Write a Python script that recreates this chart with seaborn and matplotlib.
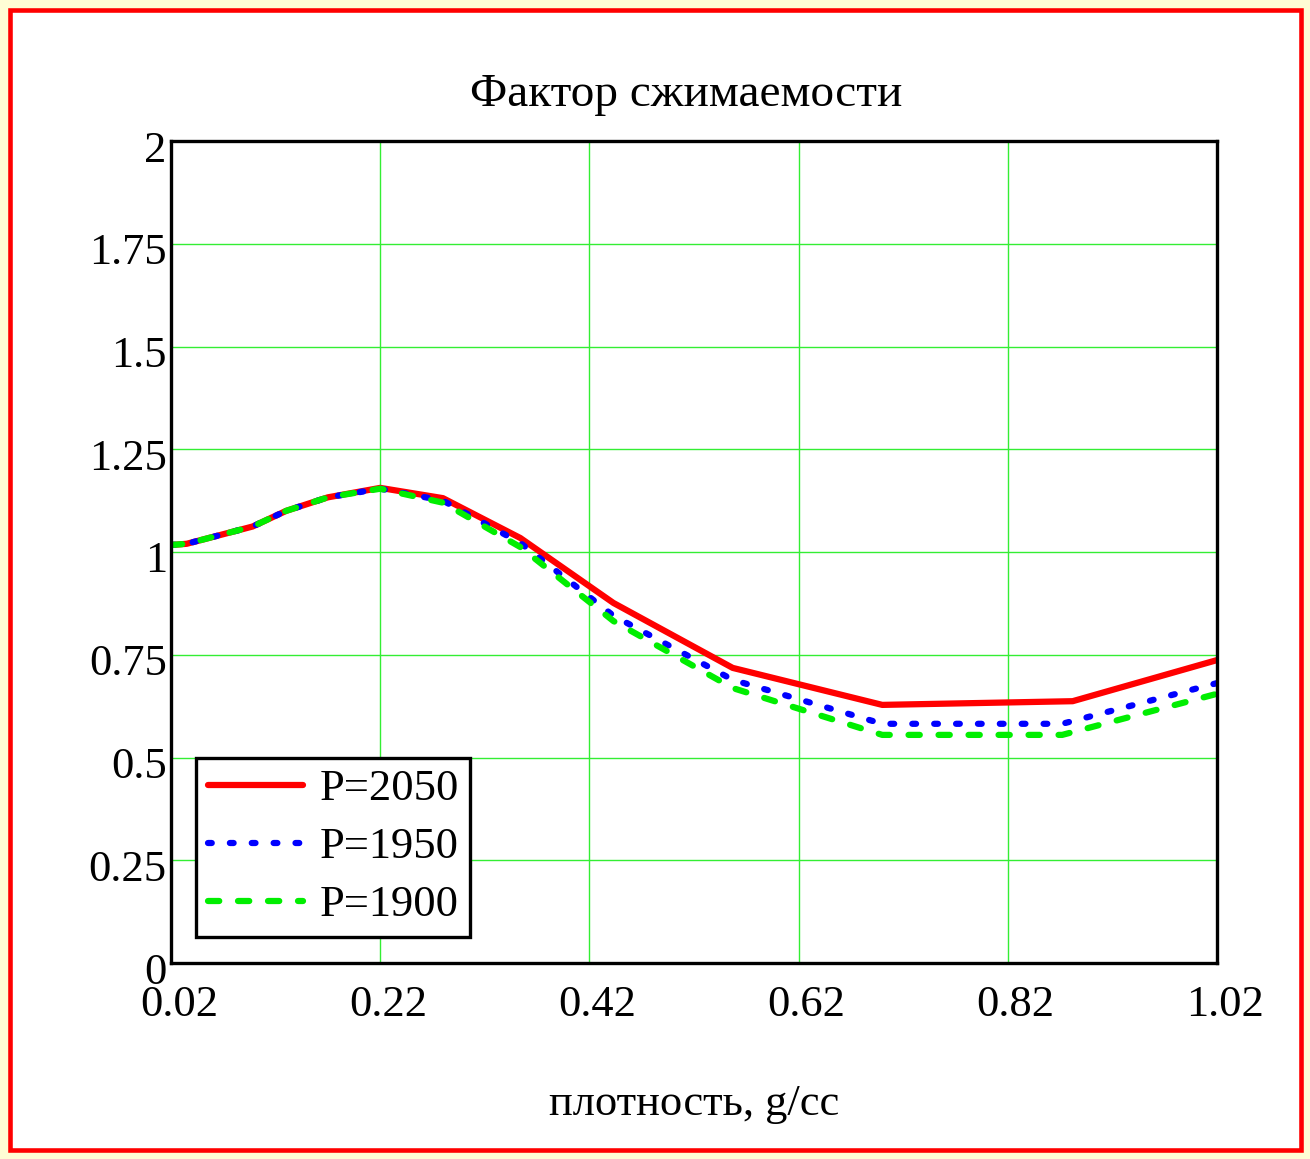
import matplotlib
matplotlib.use("Agg")
import matplotlib.pyplot as plt
import matplotlib.transforms as mtransforms
import seaborn as sns
import pandas as pd
from matplotlib.patches import Rectangle

# ---- data ----
x_2050 = [0.02, 0.035, 0.098, 0.13, 0.17, 0.22, 0.28, 0.354, 0.443, 0.557, 0.70, 0.882, 1.02]
z_2050 = [1.017, 1.02, 1.062, 1.10, 1.133, 1.156, 1.131, 1.034, 0.876, 0.718, 0.628, 0.637, 0.737]

x_1950 = [0.02, 0.035, 0.098, 0.13, 0.17, 0.22, 0.28, 0.354, 0.443, 0.557, 0.70, 0.872, 1.02]
z_1950 = [1.017, 1.02, 1.062, 1.10, 1.133, 1.154, 1.125, 1.022, 0.845, 0.689, 0.582, 0.582, 0.681]

x_1900 = [0.02, 0.035, 0.098, 0.13, 0.17, 0.22, 0.28, 0.354, 0.443, 0.557, 0.70, 0.872, 1.02]
z_1900 = [1.017, 1.02, 1.062, 1.10, 1.133, 1.154, 1.12, 1.012, 0.832, 0.669, 0.555, 0.555, 0.655]

labels = ["P=2050", "P=1950", "P=1900"]
title = "Фактор сжимаемости"
xlabel = "плотность, g/cc"
xticks = [0.02, 0.22, 0.42, 0.62, 0.82, 1.02]
xtick_labels = ["0.02", "0.22", "0.42", "0.62", "0.82", "1.02"]
yticks = [0, 0.25, 0.5, 0.75, 1, 1.25, 1.5, 1.75, 2]
ytick_labels = ["0", "0.25", "0.5", "0.75", "1", "1.25", "1.5", "1.75", "2"]

sns.set_theme(style="white")
plt.rcParams['font.family'] = ['Liberation Serif', 'DejaVu Serif']
plt.rcParams['text.color'] = 'black'

fig = plt.figure(figsize=(13.1, 11.59), dpi=100)
fig.patch.set_facecolor('#fffdd5')
# white panel with red border
border = Rectangle((9.5/1310, 9.5/1159), 1 - 19/1310, 1 - 19/1159,
                   transform=fig.transFigure, facecolor='white',
                   edgecolor='#ff0000', linewidth=3.3, zorder=-10)
fig.patches.append(border)

ax = fig.add_axes([171/1310, 1 - 963/1159, (1217 - 171)/1310, (963 - 141)/1159])
ax.set_zorder(5)
ax.set_facecolor('white')

fs = 32
series = [
    (x_2050, z_2050, labels[0], '#ff0000', '-'),
    (x_1950, z_1950, labels[1], '#0000ff', (0, (0.6, 2.9))),
    (x_1900, z_1900, labels[2], '#00ee00', (0, (1.8, 3.0))),
]
for xs, zs, lab, col, ls in series:
    df = pd.DataFrame({'x': xs, 'z': zs})
    sns.lineplot(data=df, x='x', y='z', ax=ax, color=col, linewidth=4.5,
                 linestyle=ls, label=lab, sort=False, estimator=None,
                 dash_capstyle='round', solid_capstyle='round', zorder=3)

ax.set_xlim(0.02, 1.02)
ax.set_ylim(0, 2)
ax.set_xticks(xticks)
ax.set_xticklabels(xtick_labels)
ax.set_yticks(yticks)
ax.set_yticklabels(ytick_labels)
ax.tick_params(axis='both', length=0, labelsize=fs, colors='black')
ax.tick_params(axis='x', pad=16)
ax.tick_params(axis='y', pad=3)
ax.grid(True, color='#33ee33', linewidth=1.0)
for s in ax.spines.values():
    s.set_color('black')
    s.set_linewidth(2.4)
    s.set_zorder(5)

# small offsets of tick labels as in the reference
offx = mtransforms.ScaledTranslation(8/100, 0, fig.dpi_scale_trans)
for lab in ax.get_xticklabels():
    lab.set_transform(lab.get_transform() + offx)
offy = mtransforms.ScaledTranslation(0, -5/100, fig.dpi_scale_trans)
for lab in ax.get_yticklabels():
    lab.set_transform(lab.get_transform() + offy)

ax.set_title(title, fontsize=34, color='black', pad=25, x=0.4925)
ax.set_xlabel(xlabel, fontsize=fs, color='black', labelpad=42)
ax.set_ylabel('')

leg = ax.legend(loc='lower left', bbox_to_anchor=(0.024, 0.032), borderaxespad=0,
                fontsize=fs, frameon=True, fancybox=False, handlelength=2.15,
                handletextpad=0.36, labelspacing=0.4, borderpad=0.26)
for t in leg.get_texts():
    t.set_color('black')
leg.get_frame().set_edgecolor('black')
leg.get_frame().set_linewidth(2.4)
leg.get_frame().set_facecolor('white')
leg.get_frame().set_alpha(1)
leg.set_zorder(6)

fig.savefig('out.png', dpi=100, facecolor=fig.get_facecolor())
